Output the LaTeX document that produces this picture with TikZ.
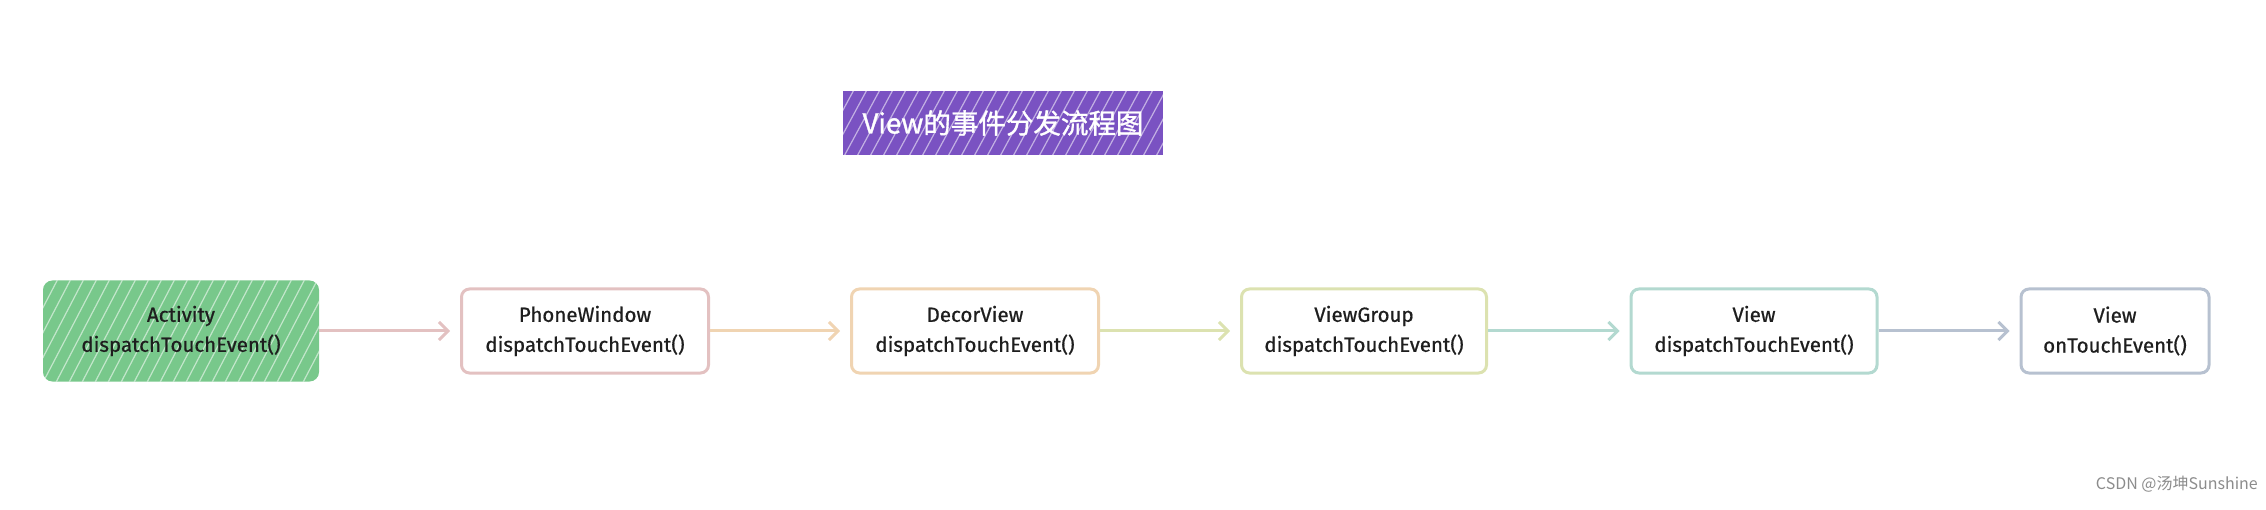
\documentclass[tikz,border=0pt]{standalone}
\usepackage{fontspec}
\setmainfont{Fira Sans}[FakeBold=0.7]
\newfontfamily\cjk{Noto Sans CJK SC}
\newfontfamily\cjkb{Noto Sans CJK SC}[FakeBold=1.2]
\usetikzlibrary{arrows.meta}
\definecolor{cpurple}{HTML}{7A52C2}
\definecolor{cgreen}{HTML}{78C88B}
\definecolor{cpink}{HTML}{E3C1C1}
\definecolor{corange}{HTML}{F0D4B2}
\definecolor{colive}{HTML}{DCE2B0}
\definecolor{cteal}{HTML}{B3D9D0}
\definecolor{cslate}{HTML}{B7C1D0}
\definecolor{ctext}{HTML}{1E1E1E}
\tikzset{
  x=1pt, y=-1pt,
  boxtext/.style={align=center, font=\fontsize{20.5}{30}\selectfont, text=ctext},
  stepbox/.style={draw=#1, line width=3pt, rounded corners=8pt, fill=white,
    minimum height=84pt, boxtext, inner sep=0pt},
  flow/.style={draw=#1, line width=3pt, -{Straight Barb[length=9pt,width=18pt,line width=3pt]}, shorten >=10pt},
  hatch/.style={white, line width=1.2pt, opacity=0.55}
}
\begin{document}
\begin{tikzpicture}
\useasboundingbox (0,0) rectangle (2266,510);
% title
\node[fill=cpurple, minimum width=320pt, minimum height=64pt, inner sep=0pt] (title) at (1003,123) {};
\begin{scope}
  \clip (843,91) rectangle (1163,155);
  \foreach \i in {0,13,...,420} { \draw[hatch] (803+\i,160) -- (843+\i,86); }
\end{scope}
\node[font=\cjkb\fontsize{27.5}{30}\selectfont, text=white, inner sep=0pt] (titletext) at (title.center) {View的事件分发流程图};
% boxes
\node[stepbox=cgreen, fill=cgreen, minimum width=273pt, minimum height=98pt] (activity) at (181,331) {};
\begin{scope}
  \clip[rounded corners=8pt] (activity.south west) rectangle (activity.north east);
  \foreach \i in {0,13,...,380} { \draw[hatch] (0+\i,390) -- (60+\i,275); }
\end{scope}
\node[boxtext] (activitytext) at (activity.center) {Activity\\dispatchTouchEvent()};
\node[stepbox=cpink, minimum width=247pt] (phone) at (585,331) {PhoneWindow\\dispatchTouchEvent()};
\node[stepbox=corange, minimum width=247pt] (decor) at (975,331) {DecorView\\dispatchTouchEvent()};
\node[stepbox=colive, minimum width=245pt] (group) at (1364,331) {ViewGroup\\dispatchTouchEvent()};
\node[stepbox=cteal, minimum width=246pt] (view) at (1754,331) {View\\dispatchTouchEvent()};
\node[stepbox=cslate, minimum width=188pt] (touch) at (2115,331) {View\\onTouchEvent()};
% arrows
\draw[flow=cpink] (activity.east) -- (phone.west);
\draw[flow=corange] (phone.east) -- (decor.west);
\draw[flow=colive] (decor.east) -- (group.west);
\draw[flow=cteal] (group.east) -- (view.west);
\draw[flow=cslate] (view.east) -- (touch.west);
% watermark
\node[anchor=east, font=\cjk\fontsize{16}{18}\selectfont, text=black!45, inner sep=0pt] (mark) at (2258,484) {CSDN @汤坤Sunshine};
\end{tikzpicture}
\end{document}
